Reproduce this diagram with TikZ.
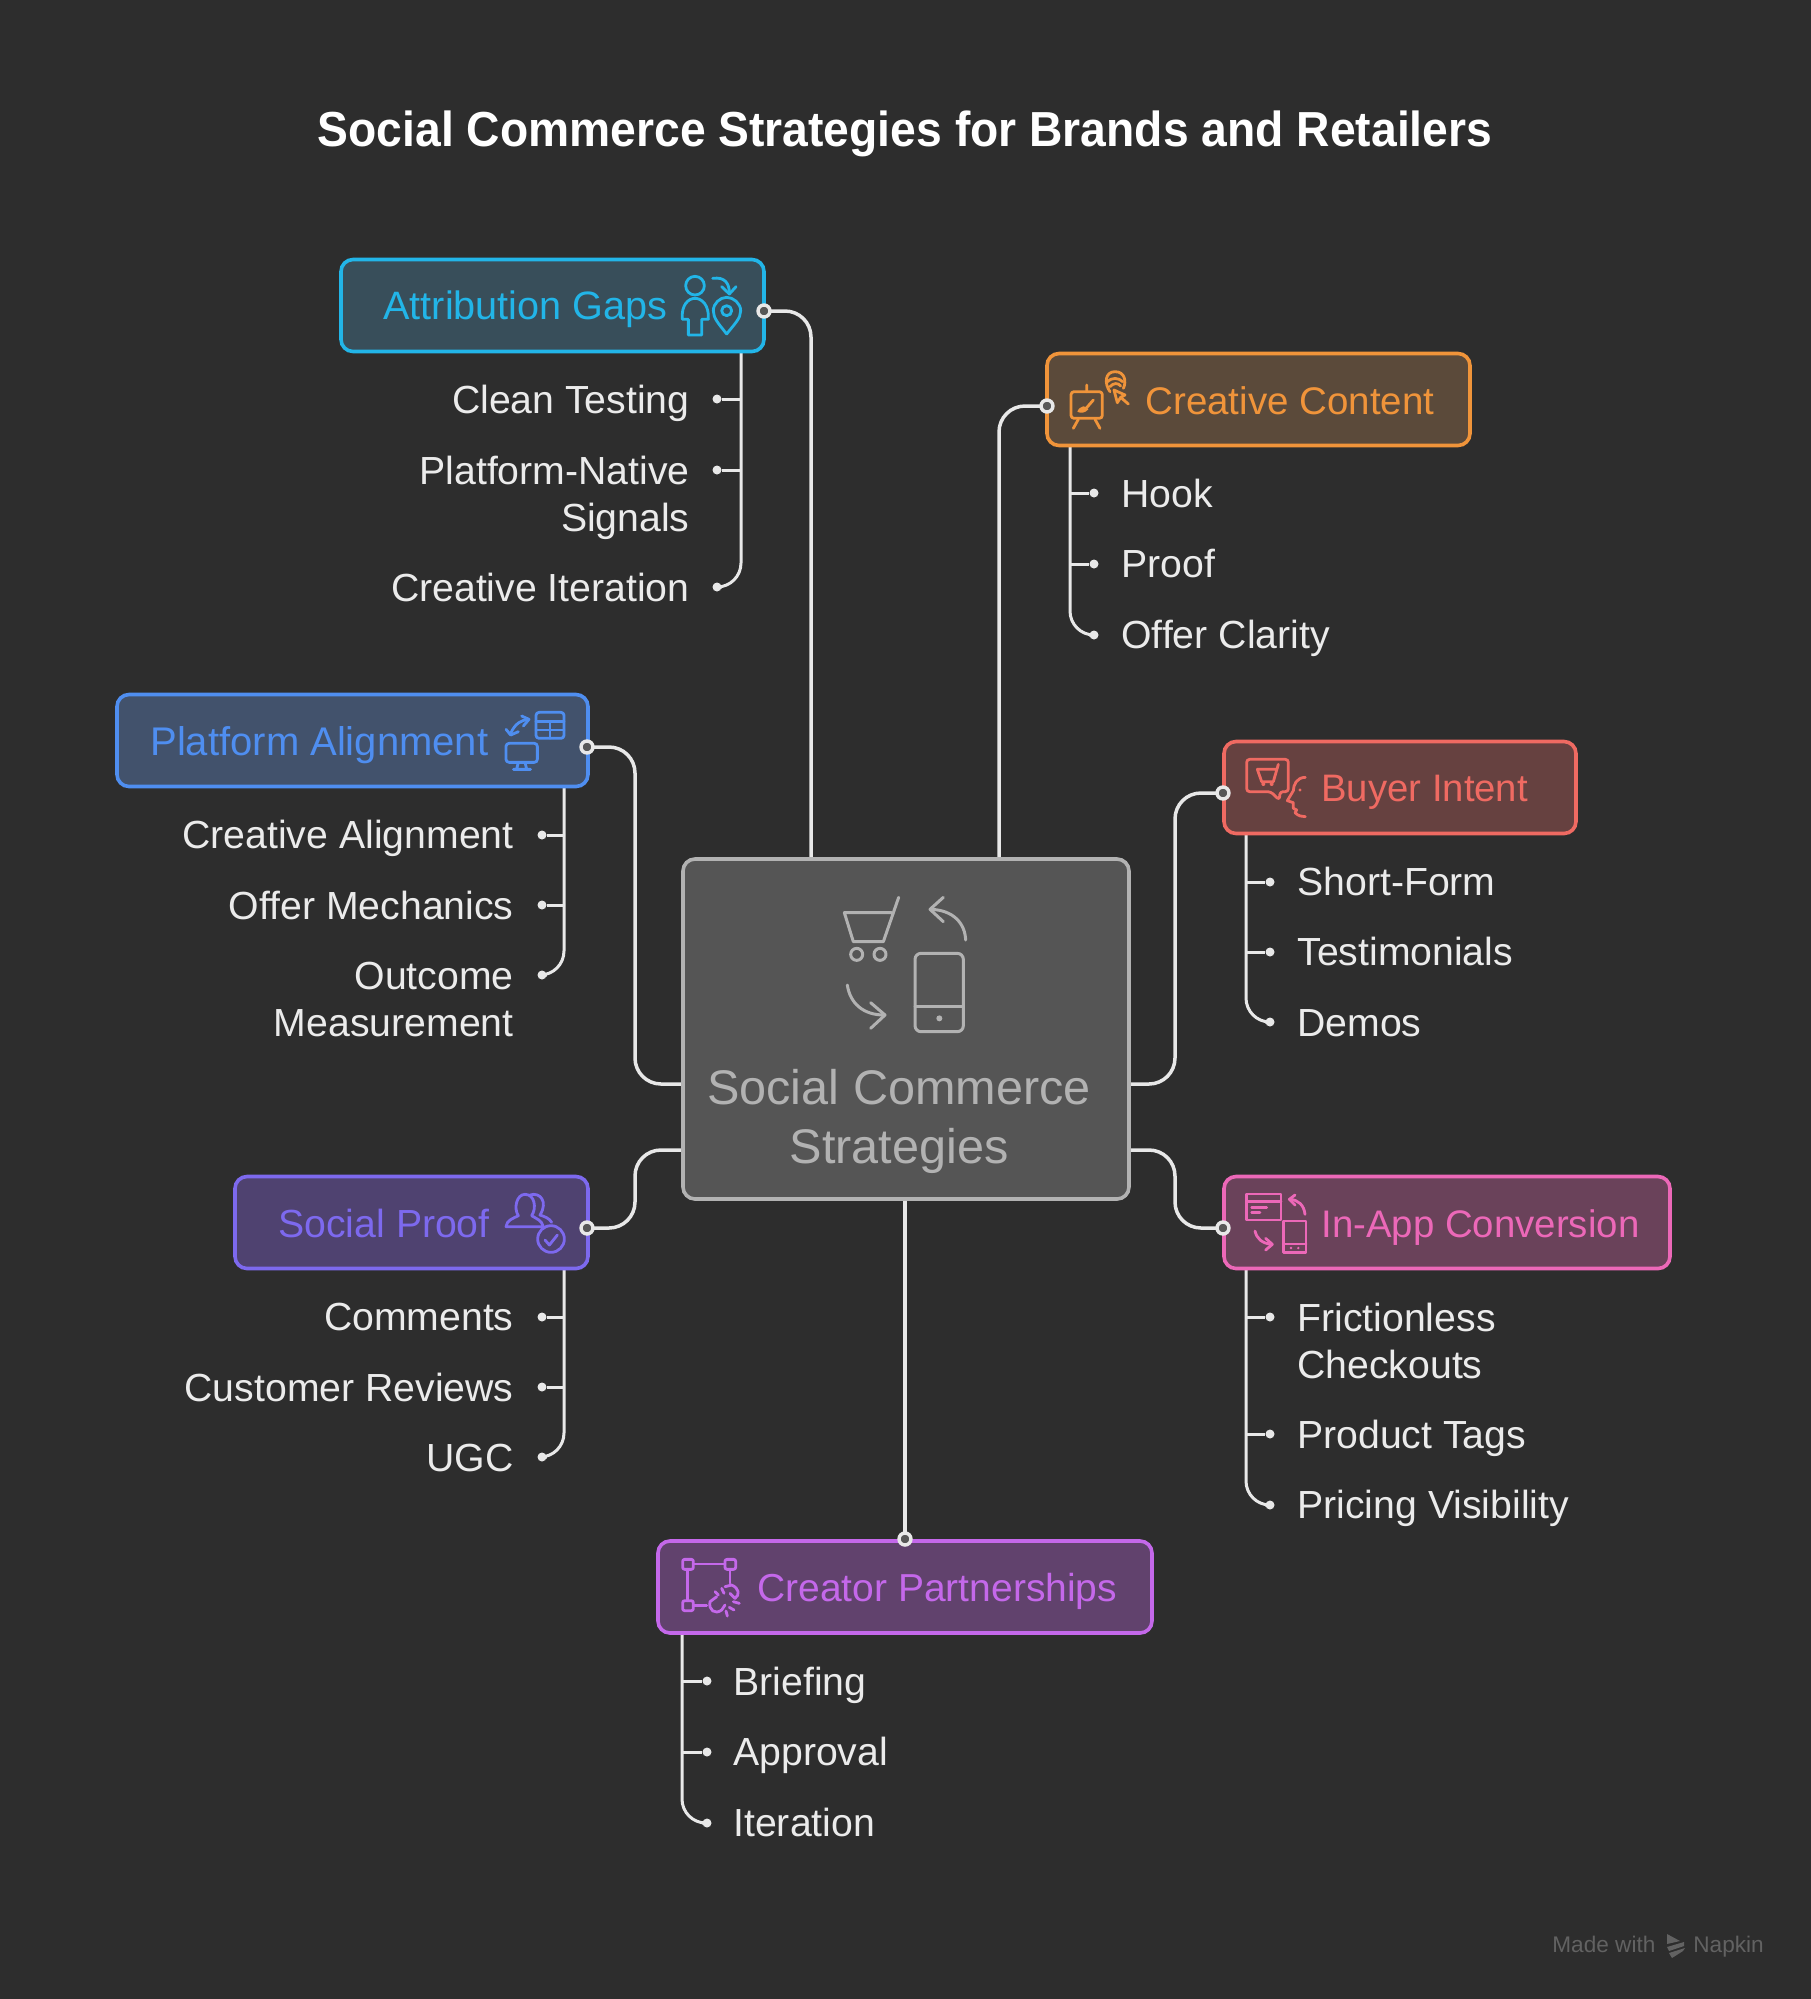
\documentclass[tikz,border=0pt]{standalone}
\usepackage{fontspec}
\setmainfont{Liberation Sans}
\newfontfamily\titlefont[FakeStretch=0.94]{Liberation Sans Bold}
\definecolor{bgc}{HTML}{2D2D2D}
\definecolor{lnc}{HTML}{E8E8E8}
\definecolor{hubs}{HTML}{B2B2B2}
\definecolor{hubf}{HTML}{555555}
\definecolor{cA}{HTML}{22B5E8}\definecolor{fA}{HTML}{384E5A}
\definecolor{cC}{HTML}{F0943A}\definecolor{fC}{HTML}{5B4A3A}
\definecolor{cB}{HTML}{EF6A62}\definecolor{fB}{HTML}{664140}
\definecolor{cI}{HTML}{EC68B8}\definecolor{fI}{HTML}{6A425A}
\definecolor{cP}{HTML}{4F8EF0}\definecolor{fP}{HTML}{42526C}
\definecolor{cS}{HTML}{7D69EE}\definecolor{fS}{HTML}{4F4270}
\definecolor{cR}{HTML}{C468EA}\definecolor{fR}{HTML}{61426D}
\definecolor{wm}{HTML}{626262}
\tikzset{
  catbox/.style={draw,line width=1.8pt,rounded corners=6pt,inner sep=0pt,minimum height=46pt},
  hubbox/.style={draw=hubs,fill=hubf,line width=1.8pt,rounded corners=6pt,inner sep=0pt},
  catlabel/.style={anchor=base west,inner sep=0pt},
  leafR/.style={anchor=base west,inner sep=0pt,text=white!92!black,align=left,font=\fontsize{19.6pt}{23.5pt}\selectfont},
  leafL/.style={anchor=base east,inner sep=0pt,text=white!92!black,align=right,font=\fontsize{19.6pt}{23.5pt}\selectfont},
  conn/.style={draw=lnc,line width=1.75pt,rounded corners=13pt},
  twig/.style={draw=lnc,line width=1.5pt},
  spine/.style={draw=lnc,line width=1.5pt,rounded corners=12pt},
  leafdot/.style={circle,fill=lnc,inner sep=0pt,minimum size=4.5pt},
  ring/.style={circle,draw=lnc,fill=bgc!80!white,line width=1.7pt,inner sep=0pt,minimum size=6pt},
  ico/.style={x=.16667pt,y=-.16667pt,line width=1.4pt,line cap=round,line join=round},
}
\newcommand{\lblfont}[1]{\fontsize{#1pt}{23.5pt}\selectfont}
\begin{document}
\begin{tikzpicture}[x=0.5pt,y=-0.5pt]
\useasboundingbox (0,0) rectangle (1811,1999);
\fill[bgc] (0,0) rectangle (1811,1999);

\node[anchor=base,inner sep=0pt,text=white,font=\titlefont\fontsize{24.6pt}{30pt}\selectfont] (title) at (905,146) {Social Commerce Strategies for Brands and Retailers};

% hub anchors
\coordinate (hA) at (811,858);
\coordinate (hC) at (999,858);
\coordinate (hB) at (1130,1084);
\coordinate (hI) at (1130,1150);
\coordinate (hP) at (682,1084);
\coordinate (hS) at (682,1150);
\coordinate (hR) at (905,1200);
\coordinate (kB) at (1175,1084);
\coordinate (kI) at (1175,1150);
\coordinate (kP) at (635,1084);
\coordinate (kS) at (635,1150);
\coordinate (dA) at (764,311);
\coordinate (dC) at (1047,406);
\coordinate (dB) at (1223,793);
\coordinate (dI) at (1223,1228);
\coordinate (dP) at (587,747);
\coordinate (dS) at (587,1228);
\coordinate (dR) at (905,1539);

% connectors
\draw[conn] (hA) |- (dA);
\draw[conn] (hC) |- (dC);
\draw[conn] (hB) -- (kB) |- (dB);
\draw[conn] (hI) -- (kI) |- (dI);
\draw[conn] (hP) -- (kP) |- (dP);
\draw[conn] (hS) -- (kS) |- (dS);
\draw[conn] (hR) -- (dR);

% leaf dots
\node[leafdot] (a1) at (717,399) {};
\node[leafdot] (a2) at (717,470) {};
\node[leafdot] (a3) at (717,587) {};
\node[leafdot] (c1) at (1094,493) {};
\node[leafdot] (c2) at (1094,564) {};
\node[leafdot] (c3) at (1094,635) {};
\node[leafdot] (b1) at (1270,882) {};
\node[leafdot] (b2) at (1270,952) {};
\node[leafdot] (b3) at (1270,1022) {};
\node[leafdot] (i1) at (1270,1317) {};
\node[leafdot] (i2) at (1270,1434) {};
\node[leafdot] (i3) at (1270,1505) {};
\node[leafdot] (p1) at (542,835) {};
\node[leafdot] (p2) at (542,905) {};
\node[leafdot] (p3) at (542,975) {};
\node[leafdot] (s1) at (542,1317) {};
\node[leafdot] (s2) at (542,1387) {};
\node[leafdot] (s3) at (542,1457) {};
\node[leafdot] (r1) at (707,1681) {};
\node[leafdot] (r2) at (707,1752) {};
\node[leafdot] (r3) at (707,1823) {};

% spines
\coordinate (sA) at (741,350);
\coordinate (sC) at (1070,445);
\coordinate (sB) at (1246,833);
\coordinate (sI) at (1246,1268);
\coordinate (sP) at (564,786);
\coordinate (sS) at (564,1268);
\coordinate (sR) at (682,1633);
\draw[spine] (sA) |- (a3);
\draw[spine] (sC) |- (c3);
\draw[spine] (sB) |- (b3);
\draw[spine] (sI) |- (i3);
\draw[spine] (sP) |- (p3);
\draw[spine] (sS) |- (s3);
\draw[spine] (sR) |- (r3);
\draw[twig] (a1) -- (a1 -| sA);
\draw[twig] (a2) -- (a2 -| sA);
\draw[twig] (c1) -- (c1 -| sC);
\draw[twig] (c2) -- (c2 -| sC);
\draw[twig] (b1) -- (b1 -| sB);
\draw[twig] (b2) -- (b2 -| sB);
\draw[twig] (i1) -- (i1 -| sI);
\draw[twig] (i2) -- (i2 -| sI);
\draw[twig] (p1) -- (p1 -| sP);
\draw[twig] (p2) -- (p2 -| sP);
\draw[twig] (s1) -- (s1 -| sS);
\draw[twig] (s2) -- (s2 -| sS);
\draw[twig] (r1) -- (r1 -| sR);
\draw[twig] (r2) -- (r2 -| sR);

% boxes
\node[hubbox,minimum width=223pt,minimum height=170pt] (hub) at (906,1029) {};
\node[catbox,draw=cA,fill=fA,minimum width=211.5pt] (attr) at (552.5,305.5) {};
\node[catbox,draw=cC,fill=fC,minimum width=211.5pt] (crea) at (1258.5,399.5) {};
\node[catbox,draw=cB,fill=fB,minimum width=176pt] (buyer) at (1400,787.5) {};
\node[catbox,draw=cI,fill=fI,minimum width=223pt] (inapp) at (1447,1222.5) {};
\node[catbox,draw=cP,fill=fP,minimum width=235.5pt] (plat) at (352.5,740.5) {};
\node[catbox,draw=cS,fill=fS,minimum width=176.5pt] (soc) at (411.5,1222.5) {};
\node[catbox,draw=cR,fill=fR,minimum width=247pt] (creat) at (905,1587) {};

% rings on top
\node[ring] (rA) at (dA) {};
\node[ring] (rC) at (dC) {};
\node[ring] (rB) at (dB) {};
\node[ring] (rI) at (dI) {};
\node[ring] (rP) at (dP) {};
\node[ring] (rS) at (dS) {};
\node[ring] (rR) at (dR) {};

% hub text
\node[anchor=base,inner sep=0pt,text=hubs,align=center,font=\fontsize{24.3pt}{29.5pt}\selectfont] (hubtext) at (899,1163) {Social Commerce\\Strategies};

% labels
\node[catlabel,text=cA,font=\lblfont{19.8}] (lA) at (383,319.5) {Attribution Gaps};
\node[catlabel,text=cC,font=\lblfont{19.25}] (lC) at (1145,414) {Creative Content};
\node[catlabel,text=cB,font=\lblfont{19.15}] (lB) at (1321,801.5) {Buyer Intent};
\node[catlabel,text=cI,font=\lblfont{19.2}] (lI) at (1321,1237) {In-App Conversion};
\node[catlabel,text=cP,font=\lblfont{20}] (lP) at (150,755.5) {Platform Alignment};
\node[catlabel,text=cS,font=\lblfont{19.6}] (lS) at (278,1237) {Social Proof};
\node[catlabel,text=cR,font=\lblfont{19.5}] (lR) at (757,1601.5) {Creator Partnerships};

% leaves left
\node[leafL] (ta1) at (690,413.5) {Clean Testing};
\node[leafL] (ta2) at (690,531) {Platform-Native\\Signals};
\node[leafL] (ta3) at (690,601) {Creative Iteration};
\node[leafL] (tp1) at (514,848.5) {Creative Alignment};
\node[leafL] (tp2) at (514,919) {Offer Mechanics};
\node[leafL] (tp3) at (514,1036.5) {Outcome\\Measurement};
\node[leafL] (ts1) at (514,1330.5) {Comments};
\node[leafL] (ts2) at (514,1401) {Customer Reviews};
\node[leafL] (ts3) at (514,1471) {UGC};
% leaves right
\node[leafR] (tc1) at (1121,507) {Hook};
\node[leafR] (tc2) at (1121,577) {Proof};
\node[leafR] (tc3) at (1121,648) {Offer Clarity};
\node[leafR] (tb1) at (1297,895.5) {Short-Form};
\node[leafR] (tb2) at (1297,965.5) {Testimonials};
\node[leafR] (tb3) at (1297,1036) {Demos};
\node[leafR] (ti1) at (1297,1378) {Frictionless\\Checkouts};
\node[leafR] (ti2) at (1297,1448) {Product Tags};
\node[leafR] (ti3) at (1297,1518) {Pricing Visibility};
\node[leafR] (tr1) at (733,1695) {Briefing};
\node[leafR] (tr2) at (733,1765) {Approval};
\node[leafR] (tr3) at (733,1836) {Iteration};

% watermark
\node[anchor=base west,inner sep=0pt,text=wm,font=\fontsize{11.3pt}{13pt}\selectfont] (wm1) at (1552,1952) {Made with};
\node[anchor=base west,inner sep=0pt,text=wm,font=\fontsize{11.3pt}{13pt}\selectfont] (wm2) at (1693,1952) {Napkin};
\fill[wm] (1667,1934) -- (1680,1941) -- (1667,1944) -- cycle;
\fill[wm] (1667,1947) -- (1684,1942) -- (1684,1946) -- (1669,1951) -- cycle;
\fill[wm] (1669,1953) -- (1685,1948) -- (1683,1951) -- (1672,1958) -- cycle;

% hub icon
\begin{scope}[shift={(660,840)},ico,color=hubs,line width=1.5pt]
\draw (716,172) -- (670,305) -- (580,305) -- (553,218) -- (695,218);
\draw (590,343) circle (18) (660,343) circle (18);
\draw (917,300) .. controls (915,250) and (880,210) .. (812,208);
\draw (850,172) -- (810,208) -- (850,245);
\draw[rounded corners=3pt] (765,340) rectangle (910,575);
\draw (765,498) -- (910,498);
\fill (838,535) circle (9);
\draw (562,435) .. controls (570,490) and (610,525) .. (672,525);
\draw (632,488) -- (675,525) -- (632,565);
\end{scope}

% attribution icon
\begin{scope}[shift={(320,240)},ico,color=cA]
\draw (1125,137) circle (28);
\draw (1087,238) .. controls (1083,195) and (1105,175) .. (1125,175) .. controls (1145,175) and (1168,195) .. (1165,238) -- (1145,238) -- (1145,285) -- (1105,285) -- (1105,238) -- cycle;
\draw (1178,115) .. controls (1215,110) and (1228,130) .. (1228,160);
\draw (1205,140) -- (1228,162) -- (1248,140);
\draw (1220,282) .. controls (1195,250) and (1180,235) .. (1180,212) .. controls (1180,190) and (1200,172) .. (1220,172) .. controls (1240,172) and (1262,190) .. (1262,212) .. controls (1262,235) and (1245,250) .. (1220,282);
\draw (1220,212) circle (15);
\end{scope}

% creative icon
\begin{scope}[shift={(1030,340)},ico,color=cC]
\draw[rounded corners=1.5pt] (123,155) rectangle (217,235);
\draw (170,135) -- (170,155) (145,238) -- (130,265) (195,238) -- (210,265);
\draw (190,180) -- (170,203);
\fill (142,215) .. controls (150,195) and (170,195) .. (175,208) .. controls (165,220) and (150,220) .. (142,215) -- cycle;
\draw (240,155) .. controls (222,130) and (225,95) .. (255,95) .. controls (285,95) and (290,125) .. (280,145);
\draw (232,125) .. controls (245,112) and (265,112) .. (278,125);
\draw (240,140) .. controls (250,128) and (265,128) .. (272,138);
\draw (252,150) -- (262,188) -- (272,172) -- (295,192);
\draw (252,150) -- (285,165) -- (272,172);
\end{scope}

% buyer icon
\begin{scope}[shift={(1200,730)},ico,color=cB]
\draw[rounded corners=1.5pt] (140,88) -- (265,88) -- (265,185) -- (240,185) -- (238,210) -- (212,185) -- (140,185) -- cycle;
\draw (235,103) -- (220,155) -- (185,155) -- (172,118) -- (226,118);
\fill (190,162) circle (6) (215,162) circle (6);
\draw (316,142) .. controls (290,142) and (280,165) .. (280,182) -- (262,212) -- (280,218) -- (280,235) -- (290,240) -- (285,248) .. controls (295,258) and (305,260) .. (316,260);
\fill (300,180) circle (5);
\end{scope}

% in-app icon
\begin{scope}[shift={(1200,1165)},ico,color=cI]
\draw (140,87) rectangle (243,165);
\draw (140,110) -- (243,110);
\draw (155,127) -- (200,127) (155,142) -- (180,142);
\draw (315,148) .. controls (312,120) and (295,105) .. (270,103);
\draw (285,90) -- (268,103) -- (285,120);
\draw (250,168) rectangle (318,262);
\draw (250,237) -- (318,237);
\fill (273,249) circle (4) (295,249) circle (4);
\draw (165,198) .. controls (170,220) and (185,235) .. (215,238);
\draw (197,220) -- (217,238) -- (197,255);
\end{scope}

% platform icon
\begin{scope}[shift={(100,680)},ico,color=cP]
\draw[rounded corners=1.5pt] (1308,97) rectangle (1392,175);
\draw (1308,125) -- (1392,125) (1308,150) -- (1392,150) (1350,125) -- (1350,175);
\draw (1232,160) .. controls (1245,130) and (1265,120) .. (1285,118);
\draw (1265,108) -- (1287,118) -- (1270,138);
\draw (1218,148) -- (1232,165) -- (1255,155);
\draw[rounded corners=1.5pt] (1218,190) rectangle (1312,247);
\draw (1255,247) -- (1250,267) (1275,247) -- (1280,267) (1240,268) -- (1292,268);
\end{scope}

% social icon
\begin{scope}[shift={(220,1165)},ico,color=cS]
\draw (858,185) .. controls (860,165) and (880,160) .. (895,152) .. controls (880,130) and (890,88) .. (915,88) .. controls (945,88) and (950,130) .. (935,152) .. controls (950,162) and (965,165) .. (970,185) -- cycle;
\draw (930,90) .. controls (960,80) and (985,110) .. (960,150) .. controls (975,155) and (988,160) .. (995,172);
\draw (993,222) circle (40);
\draw (975,225) -- (988,240) -- (1012,210);
\end{scope}

% creator icon
\begin{scope}[shift={(650,1530)},ico,color=cR]
\draw[rounded corners=1pt] (98,88) rectangle (130,118) (225,88) rectangle (257,118) (98,212) rectangle (130,242);
\draw (130,102) -- (225,102) (113,118) -- (113,212) (240,118) -- (240,160) (130,227) -- (170,227);
\draw (225,170) -- (245,165) .. controls (268,175) and (270,195) .. (255,205) -- (240,190);
\draw (200,200) -- (180,215) .. controls (175,240) and (195,255) .. (215,240) -- (225,225);
\draw (195,185) -- (205,195) (215,175) -- (222,190) (250,215) -- (268,220) (238,232) -- (252,240) (228,243) -- (232,258);
\end{scope}
\end{tikzpicture}
\end{document}
